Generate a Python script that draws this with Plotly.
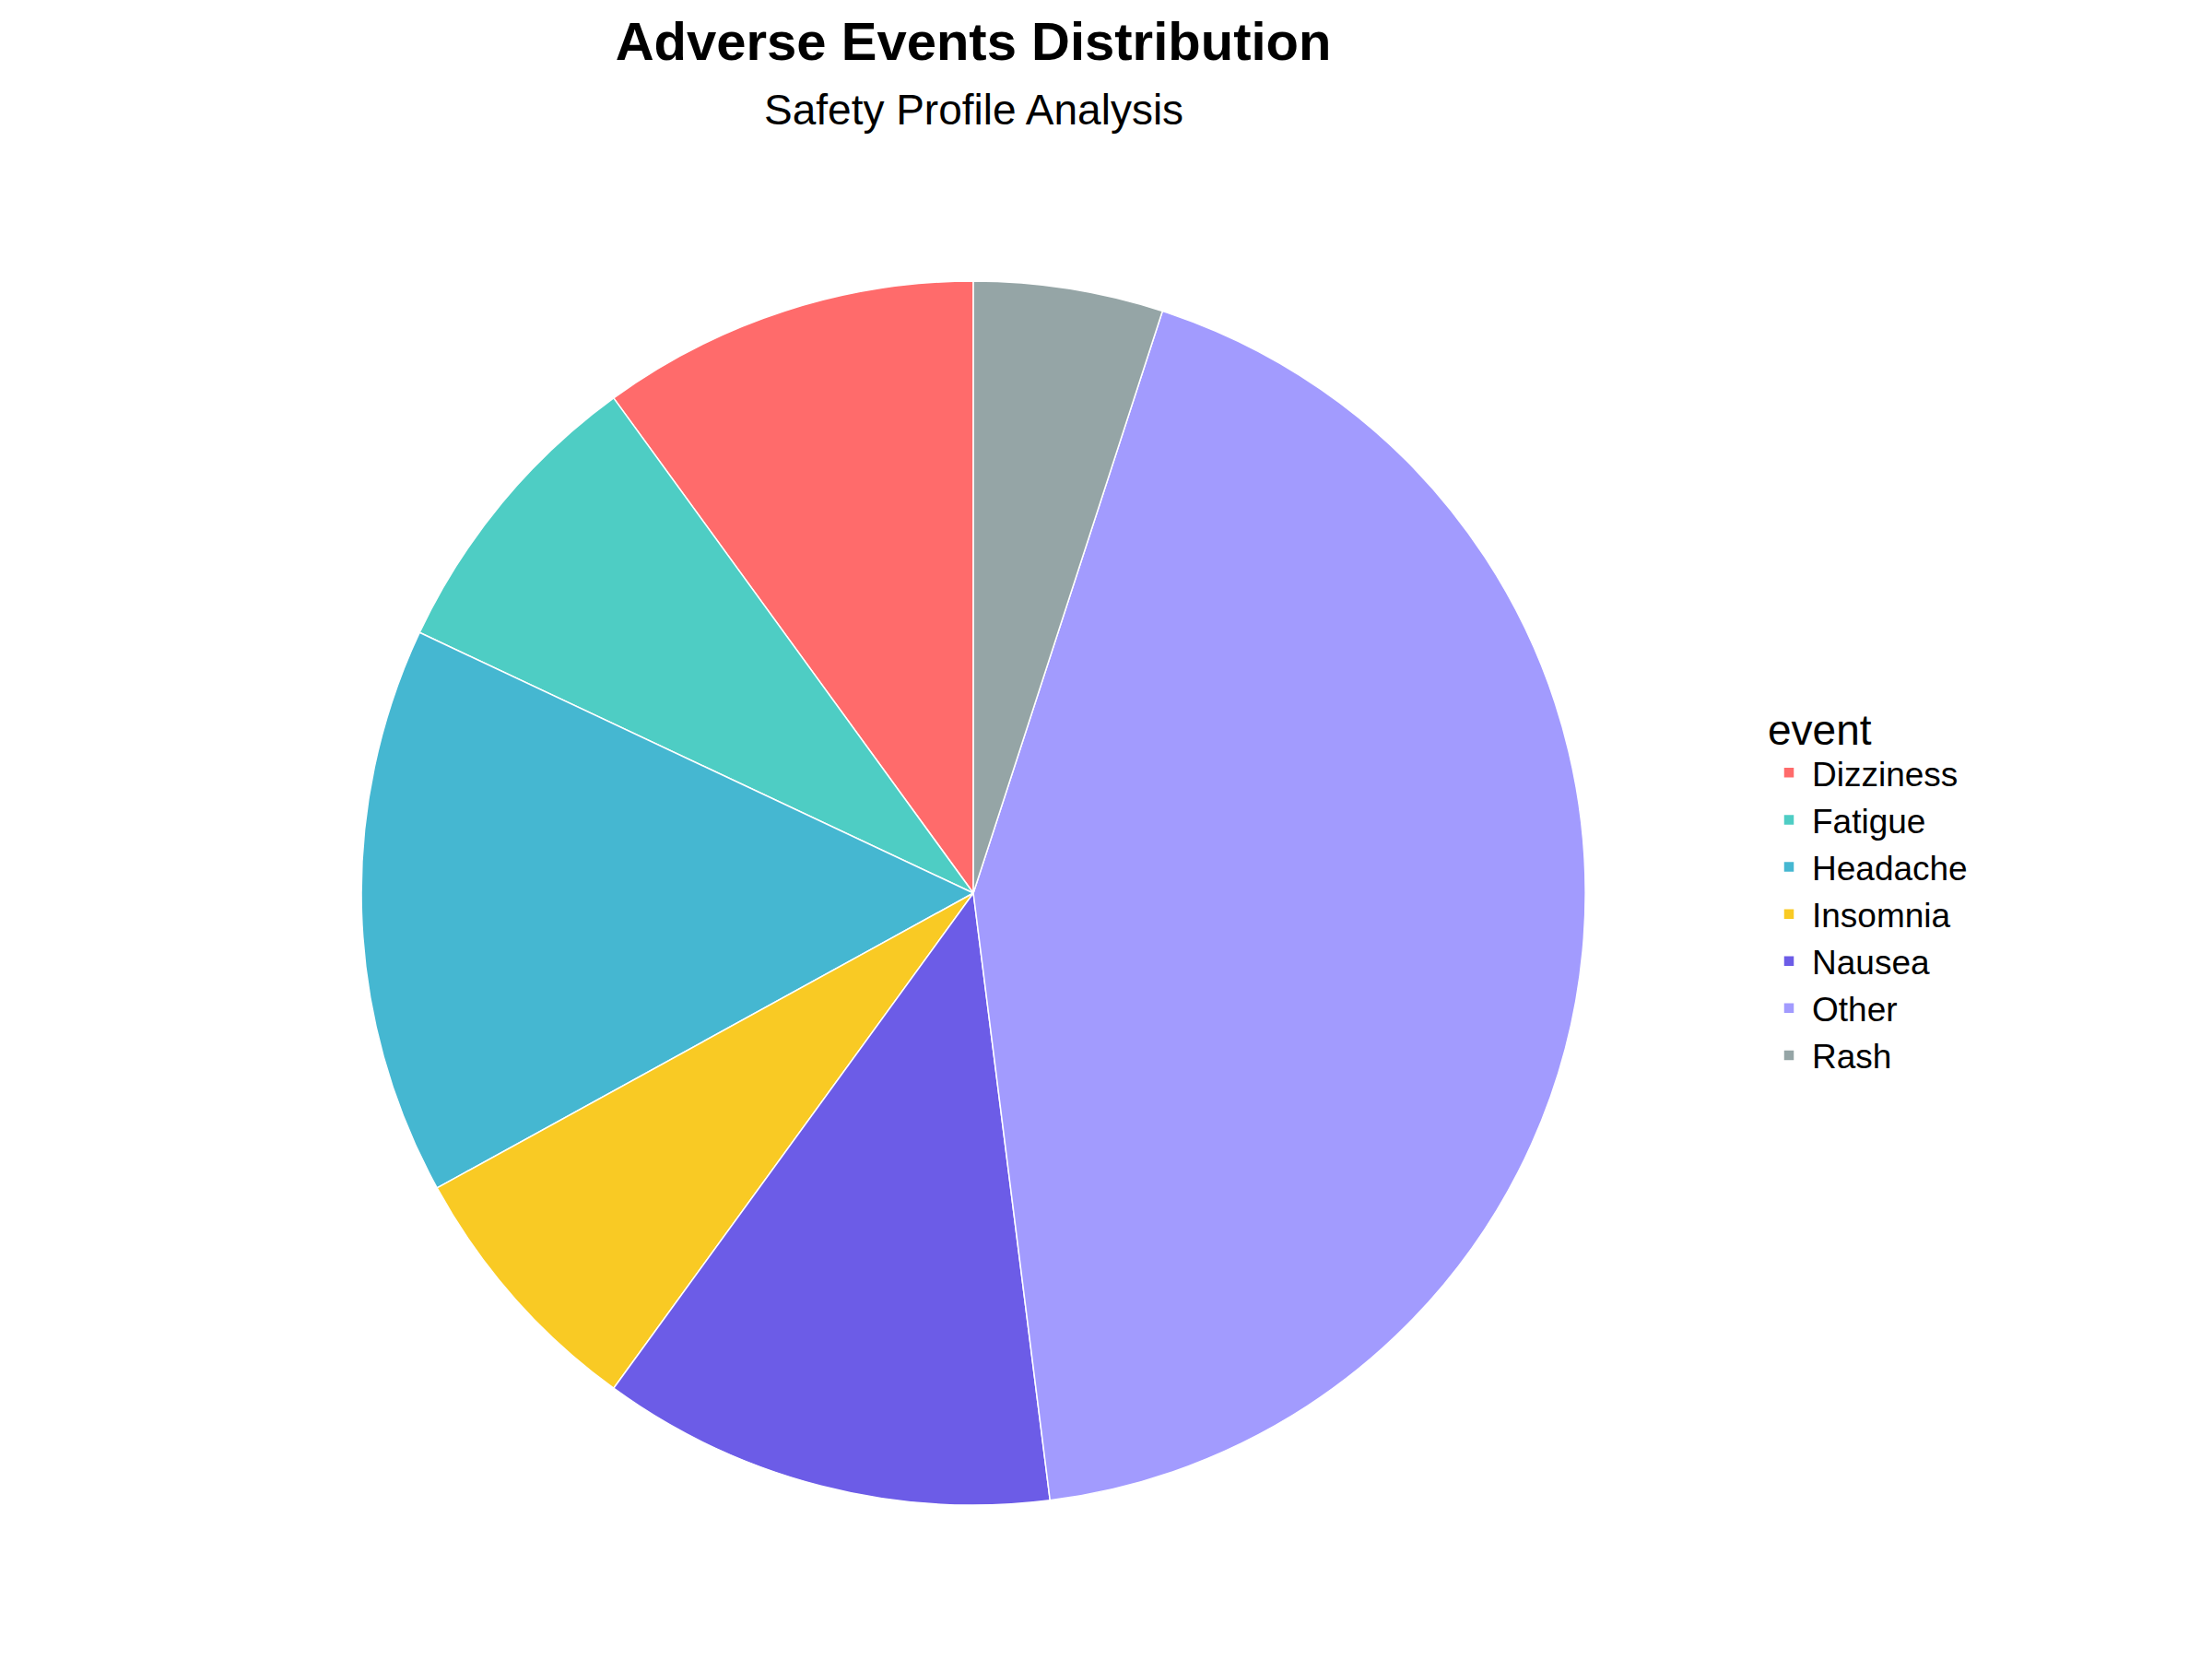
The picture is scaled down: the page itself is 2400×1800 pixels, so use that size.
import plotly.graph_objects as go

# adverse event shares (percent)
events = ['Dizziness', 'Fatigue', 'Headache', 'Insomnia', 'Nausea', 'Other', 'Rash']
share = [10, 8, 15, 7, 12, 43, 5]
colors = ['#FF6B6B', '#4ECDC4', '#45B7D1', '#F9CA24', '#6C5CE7', '#A29BFE', '#95A5A6']

font = 'Liberation Sans, Arial, sans-serif'

# plotly's counterclockwise pie ends the first slice at 12 o'clock;
# turn it back so the first slice starts there instead (ggplot style)
start_rot = -360 * share[0] / sum(share)

fig = go.Figure(
    go.Pie(
        labels=events,
        values=share,
        sort=False,
        direction='counterclockwise',
        rotation=start_rot,
        textinfo='none',
        hoverinfo='label+percent',
        marker=dict(colors=colors, line=dict(color='white', width=1.5)),
        domain=dict(x=[0.16, 0.7134], y=[0.0972, 0.835]),
    )
)

fig.update_layout(
    width=2400,
    height=1800,
    paper_bgcolor='white',
    plot_bgcolor='white',
    margin=dict(l=0, r=0, t=0, b=0),
    font=dict(family=font, color='black'),
    title=dict(
        text='<b>Adverse Events Distribution</b>',
        x=0.4367, xanchor='center',
        y=1 - 37 / 1800, yanchor='middle', yref='container',
        font=dict(size=58, family=font, color='black'),
    ),
    annotations=[dict(
        text='Safety Profile Analysis',
        x=0.4367, xref='paper', xanchor='center',
        y=1 - 111 / 1800, yref='paper', yanchor='middle',
        showarrow=False,
        font=dict(size=46, family=font, color='black'),
    )],
    legend=dict(
        title=dict(text='event', font=dict(size=46, family=font)),
        font=dict(size=37, family=font),
        x=0.795, xanchor='left',
        y=0.47, yanchor='middle',
        itemwidth=40,
    ),
)

fig.write_html('out.html')
